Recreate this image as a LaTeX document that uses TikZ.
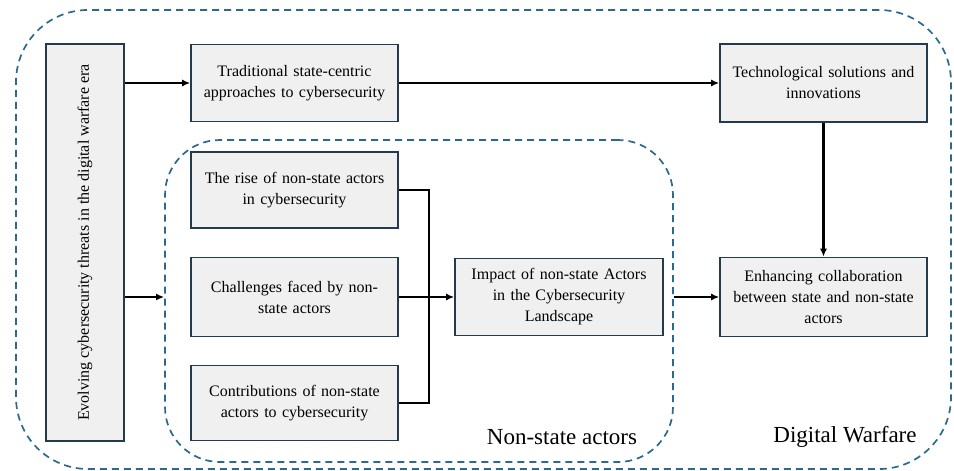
\documentclass[tikz,border=0pt]{standalone}
\usepackage{fontspec}
\setmainfont{Liberation Serif}
\usetikzlibrary{arrows.meta}
\definecolor{boxfill}{HTML}{F0F0F0}
\definecolor{boxline}{HTML}{243B4D}
\definecolor{frameblue}{HTML}{2B6A8E}
\tikzset{
  box/.style={draw=boxline, fill=boxfill, line width=1.6pt, minimum width=207pt,
    minimum height=77pt, align=center, text width=200pt, inner sep=0pt,
    font=\fontsize{16}{21}\selectfont},
  frame/.style={draw=frameblue, line width=1.7pt, dash pattern=on 7pt off 5pt},
  link/.style={draw=black, line width=2.2pt},
  arr/.style={link, -{Latex[length=8pt,width=7pt]}},
  tag/.style={font=\fontsize{23}{26}\selectfont, inner sep=0pt}
}
\begin{document}
\begin{tikzpicture}[x=1pt, y=-1pt]
\useasboundingbox (0,0) rectangle (954,471);
% enclosing frames
\node[frame, rounded corners=72pt, minimum width=935pt, minimum height=459pt] (outer) at (483.5,239.5) {};
\node[frame, rounded corners=55pt, minimum width=508pt, minimum height=322pt] (inner) at (419,301) {};
% boxes
\node[box, minimum width=78pt, minimum height=397pt, text width=0pt] (evolve) at (85,242.5) {};
\node[rotate=90, font=\fontsize{16}{21}\selectfont] at (evolve.center) {Evolving cybersecurity threats in the digital warfare era};
\node[box] (trad) at (294.5,83) {Traditional state-centric\\approaches to cybersecurity};
\node[box, minimum height=78pt] (tech) at (823.5,83) {Technological solutions and\\innovations};
\node[box, minimum height=76pt] (rise) at (294.5,190) {The rise of non-state actors\\in cybersecurity};
\node[box, minimum height=79pt] (chal) at (294.5,297) {Challenges faced by non-\\state actors};
\node[box, minimum height=75pt] (contrib) at (294.5,403) {Contributions of non-state\\actors to cybersecurity};
\node[box, minimum width=208pt] (impact) at (559,297) {Impact of non-state Actors\\in the Cybersecurity\\Landscape};
\node[box, minimum height=79pt] (enh) at (823.5,297) {Enhancing collaboration\\between state and non-state\\actors};
% labels
\node[tag] at (562,437) {Non-state actors};
\node[tag] at (845,437) {Digital Warfare};
% connectors
\draw[arr] (evolve.east |- trad) -- (trad.west);
\draw[arr] (trad.east) -- (tech.west);
\draw[arr] (tech.south) -- (enh.north);
\draw[arr] (evolve.east |- chal) -- (inner.west |- chal);
\draw[link] (rise.east) -- ++(30,0) |- (contrib.east);
\draw[arr] (chal.east) -- (impact.west);
\draw[arr] (inner.east |- enh) -- (enh.west);
\end{tikzpicture}
\end{document}
